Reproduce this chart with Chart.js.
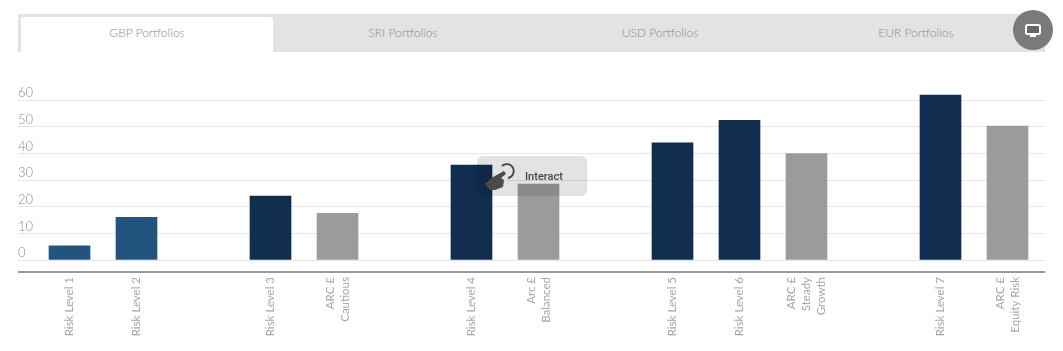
<!DOCTYPE html>
<html lang="en">
    <head>
        <meta charset="UTF-8" />
        <title>GBP Portfolios</title>
        <script src="https://cdn.jsdelivr.net/npm/chart.js"></script>
        <style>
            html, body { margin: 0; padding: 0; background: #fff; }
            body { width: 1063px; height: 351px; position: relative; overflow: hidden; font-family: Lato, sans-serif; }
            canvas { position: absolute; left: 0; top: 0; }
            .tabs { position: absolute; left: 18px; top: 14px; width: 1027px; height: 38px; background: #e3e3e3; }
            .tab { position: absolute; top: 3px; height: 35px; line-height: 32px; text-align: center; font-size: 12px; font-weight: 300; color: #8c8c8c; }
            .tab.active { background: #fff; border-radius: 3px 3px 0 0; }
            .axis-line { position: absolute; left: 18px; top: 271px; width: 1027px; height: 2px; background: #999; }
            .device { position: absolute; left: 1013px; top: 10px; width: 40px; height: 40px; border-radius: 50%; background: #7a7a7a; }
            .device svg { position: absolute; left: 12px; top: 14px; }
            .interact { position: absolute; left: 477px; top: 156px; width: 110px; height: 40px; border-radius: 6px; background: rgba(0, 0, 0, 0.11); }
            .interact span { position: absolute; left: 48px; top: 14px; font: 500 11px Roboto, sans-serif; color: #444; }
            .interact svg { position: absolute; left: 6px; top: 6px; }
        </style>
    </head>
    <body>
        <div class="tabs">
            <div class="tab active" style="left: 3px; width: 252px">GBP Portfolios</div>
            <div class="tab" style="left: 257px; width: 256px">SRI Portfolios</div>
            <div class="tab" style="left: 514px; width: 256px">USD Portfolios</div>
            <div class="tab" style="left: 770px; width: 256px">EUR Portfolios</div>
        </div>

        <canvas id="chart" width="1063" height="351"></canvas>

        <div class="axis-line"></div>

        <div class="device">
            <svg width="16" height="14" viewBox="0 0 16 14">
                <rect x="1" y="1" width="14" height="9" rx="1.5" fill="#666" stroke="#fff" stroke-width="2" />
                <rect x="5" y="11" width="6" height="2" fill="#fff" />
            </svg>
        </div>

        <div class="interact">
            <svg width="36" height="30" viewBox="0 0 36 30">
                <path d="M19 4 A7 7 0 1 1 25 16" fill="none" stroke="#444" stroke-width="1.8" />
                <path d="M2 22 L10 15 L21 9 L23 12 L18 16 L21 18 L20 25 L12 28 L7 28 Z" fill="#4a4a4a" />
            </svg>
            <span>Interact</span>
        </div>

        <script>
            // Values, blanks are the gaps between groups
            const categories = [
                "Risk Level 1",
                "Risk Level 2",
                "",
                "Risk Level 3",
                ["ARC £", "Cautious"],
                "",
                "Risk Level 4",
                ["Arc £", "Balanced"],
                "",
                "Risk Level 5",
                "Risk Level 6",
                ["ARC £", "Steady", "Growth"],
                "",
                "Risk Level 7",
                ["ARC £", "Equity Risk"],
            ];
            const values = [5.3, 16, null, 24, 17.5, null, 35.7, 28.5, null, 44, 52.5, 40, null, 62, 50.3];
            const yMin = 0;
            const yMax = 65;
            const yStep = 10;

            const blue = "#235480";
            const navy = "#112d50";
            const grey = "#9b9b9b";
            const barColors = [blue, blue, null, navy, grey, null, navy, grey, null, navy, navy, grey, null, navy, grey];

            const gridColor = "#e6e6e6";
            const labelColor = "#a6a6a6";
            const xLineHeight = 15;

            // Chart.js starts rotated multi-line labels at the tick, the original centres them on it
            const centreXLabels = {
                id: "centreXLabels",
                beforeDraw(chart) {
                    chart.scales.x.getLabelItems().forEach((item) => {
                        if (Array.isArray(item.label) && !item.centred) {
                            item.options.translation[0] -= ((item.label.length - 1) * xLineHeight) / 2;
                            item.centred = true;
                        }
                    });
                },
            };

            new Chart(document.getElementById("chart"), {
                type: "bar",
                data: {
                    labels: categories,
                    datasets: [
                        {
                            data: values,
                            backgroundColor: barColors,
                            barThickness: 41,
                        },
                    ],
                },
                plugins: [centreXLabels],
                options: {
                    responsive: false,
                    animation: false,
                    events: [],
                    layout: { padding: { left: 18, right: 18, top: 87, bottom: 0 } },
                    plugins: { legend: { display: false }, tooltip: { enabled: false } },
                    scales: {
                        x: {
                            grid: { display: false },
                            border: { display: false },
                            afterFit: (scale) => { scale.height = 91; },
                            ticks: {
                                autoSkip: false,
                                minRotation: 90,
                                maxRotation: 90,
                                padding: 9,
                                color: labelColor,
                                font: { family: "Lato", size: 11.5, lineHeight: xLineHeight + "px" },
                            },
                        },
                        y: {
                            min: yMin,
                            max: yMax,
                            border: { display: false },
                            grid: { color: gridColor, tickLength: 18 },
                            afterFit: (scale) => { scale.width = 18; },
                            ticks: {
                                stepSize: yStep,
                                includeBounds: false,
                                crossAlign: "far",
                                labelOffset: -7,
                                padding: 0,
                                color: "#8c8c8c",
                                font: { family: "Lato", size: 13, weight: 300 },
                            },
                        },
                        // only here so the grid lines run a little past the last bar
                        y2: {
                            position: "right",
                            min: yMin,
                            max: yMax,
                            border: { display: false },
                            grid: { color: gridColor, tickLength: 4, drawOnChartArea: false },
                            afterFit: (scale) => { scale.width = 4; },
                            ticks: { stepSize: yStep, includeBounds: false, display: false },
                        },
                    },
                },
            });
        </script>
    </body>
</html>
